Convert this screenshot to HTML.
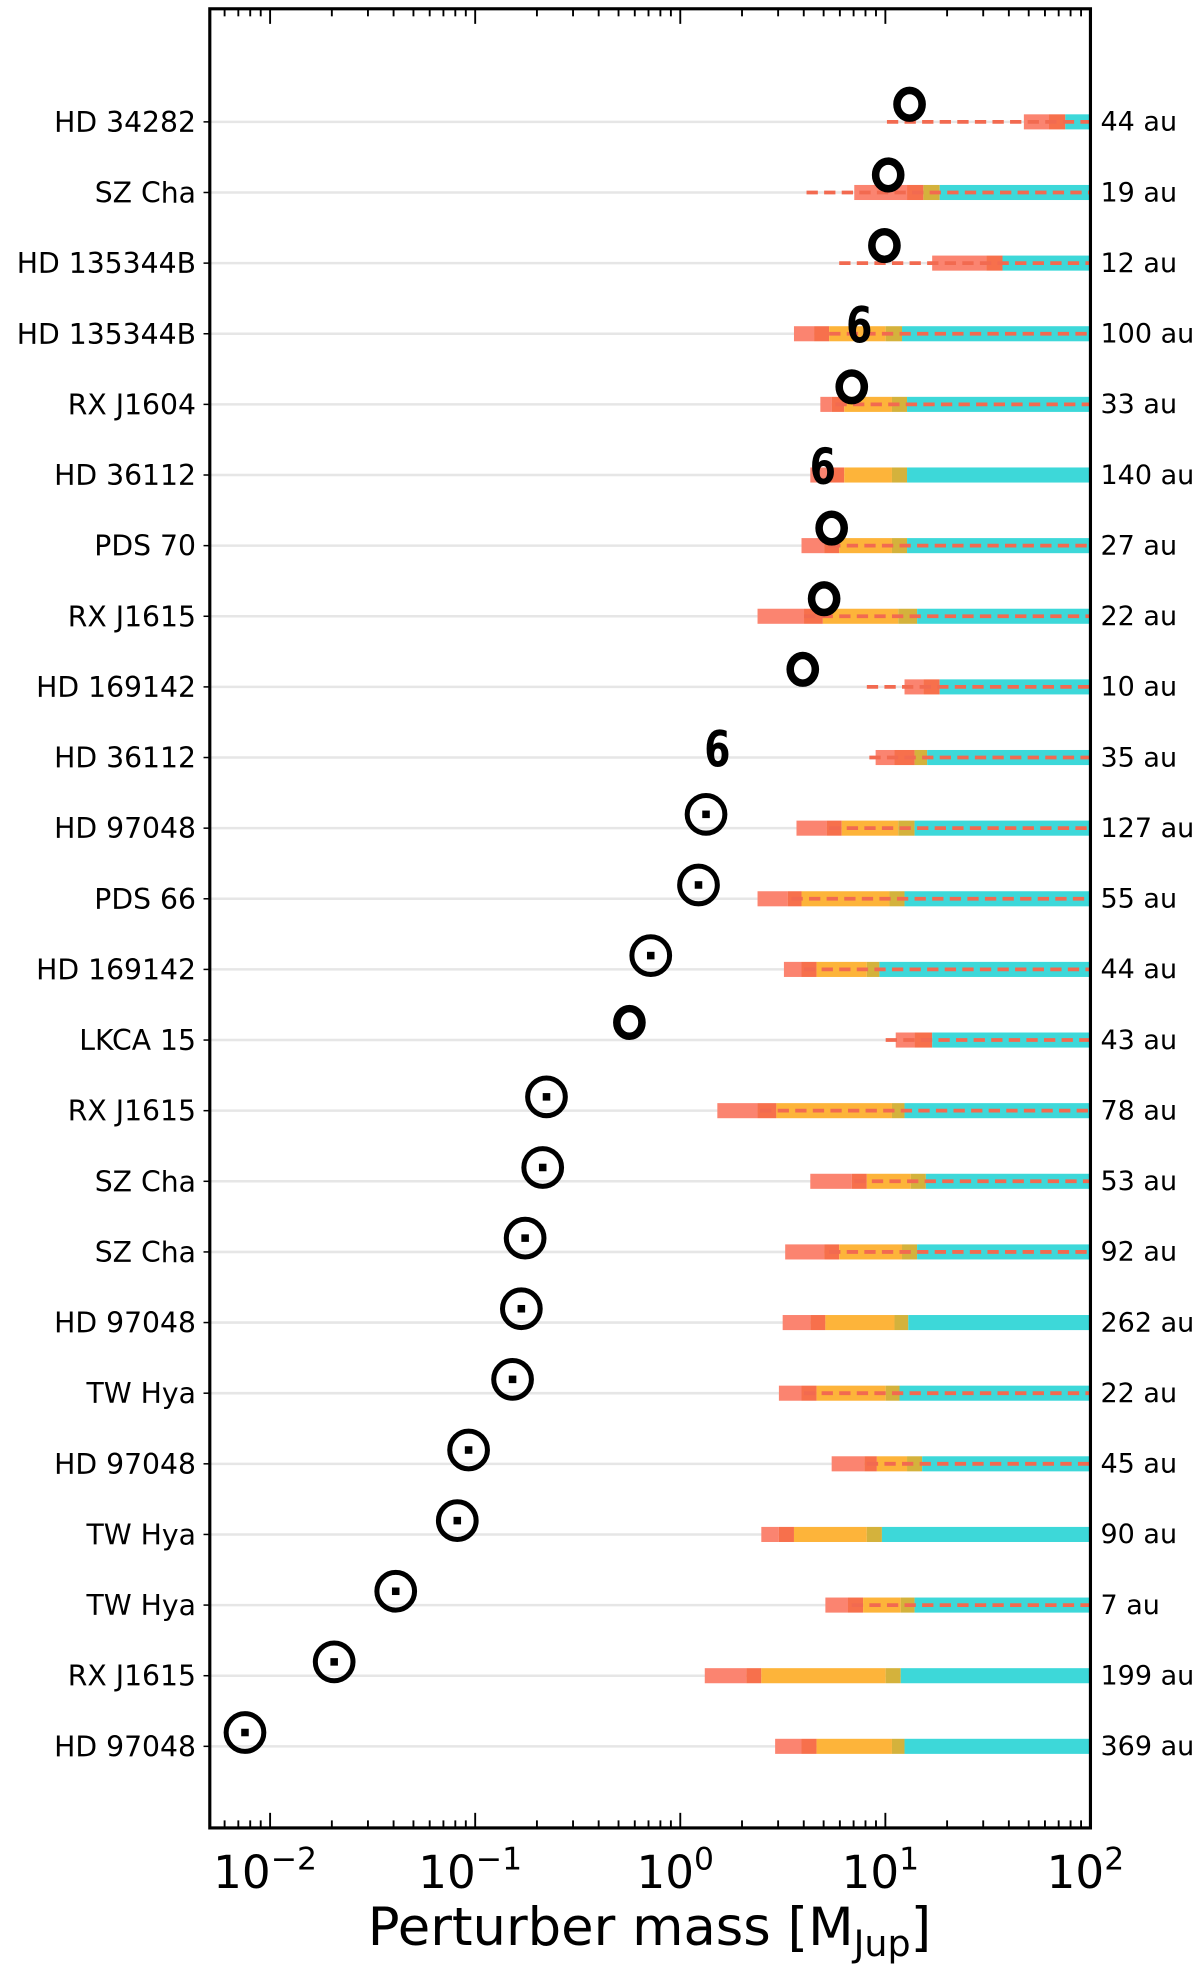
<!DOCTYPE html>
<html><head><meta charset="utf-8"><style>
html,body{margin:0;padding:0;background:#fff;}
svg{display:block;}
text{font-family:"DejaVu Sans","Liberation Sans",sans-serif;}
</style></head><body>
<svg id="s" width="1200" height="1968" viewBox="0 0 955.2 1566.5" preserveAspectRatio="none" xmlns="http://www.w3.org/2000/svg"></svg>
<script>
var s=document.getElementById('s'),h='';
var rows=[
["HD 34282","44 au","o",724,[706],[815,835,848,848,848]],
["SZ Cha","19 au","o",707,[642],[680,722,735,735,748]],
["HD 135344B","12 au","o",704,[668],[742,785,798,798,798]],
["HD 135344B","100 au","6",684,[660],[632,648,660,705,718]],
["RX J1604","33 au","o",678,[665],[653,662,672,710,722]],
["HD 36112","140 au","6",655,null,[645,660,672,710,722]],
["PDS 70","27 au","o",662,[660],[638,656,668,710,722]],
["RX J1615","22 au","o",656,[640],[603,640,655,715,730]],
["HD 169142","10 au","o",639,[690],[720,735,748,748,748]],
["HD 36112","35 au","6",571,[692],[697,712,728,728,738]],
["HD 97048","127 au","d",562,[660],[634,658,670,715,728]],
["PDS 66","55 au","d",556,[630],[603,627,638,708,720]],
["HD 169142","44 au","d",518,[640],[624,638,650,690,700]],
["LKCA 15","43 au","o",501,[705],[713,728,742,742,742]],
["RX J1615","78 au","d",435,[605],[571,603,618,710,720]],
["SZ Cha","53 au","d",432,[680],[645,678,690,725,737]],
["SZ Cha","92 au","d",418,[660],[625,656,668,718,730]],
["HD 97048","262 au","d",415,null,[623,645,657,712,723]],
["TW Hya","22 au","d",408,[640],[620,638,650,705,716]],
["HD 97048","45 au","d",373,[690],[662,688,698,722,734]],
["TW Hya","90 au","d",364,null,[606,620,632,690,702]],
["TW Hya","7 au","d",315,[678],[657,675,687,717,728]],
["RX J1615","199 au","d",266,null,[561,594,606,705,717]],
["HD 97048","369 au","d",195,null,[617,638,650,710,720]]];
var L=167,R=868,T=7,B=1455;
rows.forEach(function(r,i){
 var y=97+56.22*i;
 h+='<line x1="'+L+'" x2="'+R+'" y1="'+y+'" y2="'+y+'" stroke="#e6e6e6" stroke-width="2"/>';
 h+='<line x1="'+(L-5)+'" x2="'+L+'" y1="'+y+'" y2="'+y+'" stroke="#000" stroke-width="1.2"/>';
 h+='<text x="156" y="'+(y+8)+'" font-size="22.5" text-anchor="end">'+r[0]+'</text>';
 h+='<text x="876" y="'+(y+7)+'" font-size="21.5">'+r[1]+'</text>';
 var b=r[5],hh=12,yt=y-6;
 function rc(a,c,col){if(c>a)h+='<rect x="'+a+'" y="'+yt+'" width="'+(c-a)+'" height="'+hh+'" fill="'+col+'"/>';}
 rc(b[0],b[1],'#fb8470');rc(b[1],b[2],'#f7704c');rc(b[2],b[3],'#fdb43a');rc(b[3],b[4],'#d4b23c');rc(b[4],R,'#3dd8d9');
 if(r[4])h+='<line x1="'+r[4][0]+'" x2="'+R+'" y1="'+y+'" y2="'+y+'" stroke="#f26a50" stroke-width="3" stroke-dasharray="9,5"/>';
 var x=r[3];
 if(r[2]=='d'){h+='<circle cx="'+x+'" cy="'+(y-11)+'" r="15" fill="none" stroke="#000" stroke-width="4"/><rect x="'+(x-3)+'" y="'+(y-14)+'" width="6" height="6" fill="#000"/>';}
 else if(r[2]=='o'){h+='<ellipse cx="'+x+'" cy="'+(y-14)+'" rx="10" ry="11" fill="none" stroke="#000" stroke-width="6"/>';}
 else {h+='<text x="'+x+'" y="'+(y+7)+'" font-size="40" font-weight="bold" text-anchor="middle" transform="translate('+x+' 0) scale(0.75 1) translate('+(-x)+' 0)">6</text>';}
});
h+='<rect x="'+L+'" y="'+T+'" width="'+(R-L)+'" height="'+(B-T)+'" fill="none" stroke="#000" stroke-width="2.5"/>';
var d=163.25,x0=215;
for(var k=-3;k<=2;k++){for(var m=1;m<10;m++){var x=x0+(k+2)*d+Math.log10(m)*d;if(x<L+1||x>R+0.5)continue;var len=m==1?12:6;
 h+='<line x1="'+x+'" x2="'+x+'" y1="'+T+'" y2="'+(T+len)+'" stroke="#000" stroke-width="1.5"/><line x1="'+x+'" x2="'+x+'" y1="'+B+'" y2="'+(B-len)+'" stroke="#000" stroke-width="1.5"/>';}}
var ex=['\u22122','\u22121','0','1','2'];
for(var k=0;k<5;k++){var x=x0+k*d;h+='<text x="'+(x-4)+'" y="1503" font-size="36" text-anchor="middle">10<tspan dy="-15" font-size="25">'+ex[k]+'</tspan></text>';}
h+='<text x="517" y="1548" font-size="42" text-anchor="middle">Perturber mass [M<tspan dy="9" font-size="29">Jup</tspan><tspan dy="-9">]</tspan></text>';
s.innerHTML=h;
</script>
</body></html>
